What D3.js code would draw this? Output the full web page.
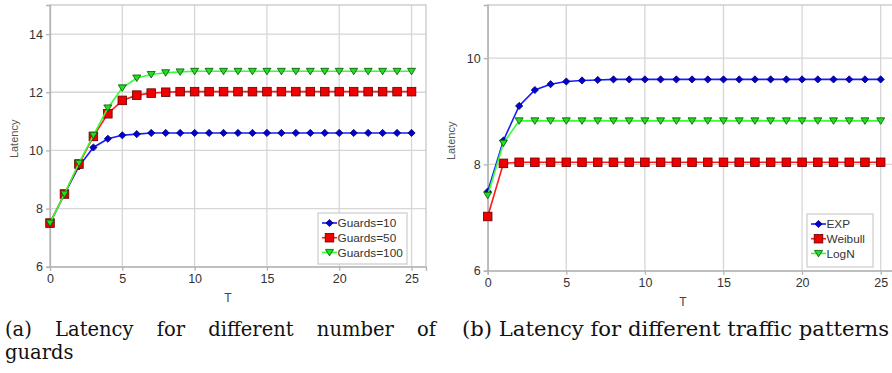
<!DOCTYPE html>
<html>
<head>
<meta charset="utf-8">
<script src="https://cdn.jsdelivr.net/npm/d3@7"></script>
<style>
  body { margin: 0; background: #fff; }
  svg { display: block; }
</style>
</head>
<body>
<div id="chart-area"></div>
<script>
// data
const T = [0,1,2,3,4,5,6,7,8,9,10,11,12,13,14,15,16,17,18,19,20,21,22,23,24,25]
const xTicks = [0, 5, 10, 15, 20, 25]

const guards10  = [7.5,8.5,9.45,10.1,10.4,10.52,10.56,10.6,10.6,10.6,10.6,10.6,10.6,10.6,10.6,10.6,10.6,10.6,10.6,10.6,10.6,10.6,10.6,10.6,10.6,10.6]
const guards50  = [7.5,8.5,9.53,10.48,11.26,11.72,11.9,11.97,12.0,12.02,12.02,12.02,12.02,12.02,12.02,12.02,12.02,12.02,12.02,12.02,12.02,12.02,12.02,12.02,12.02,12.02]
const guards100 = [7.5,8.5,9.56,10.52,11.46,12.15,12.49,12.61,12.67,12.7,12.72,12.72,12.72,12.72,12.72,12.72,12.72,12.72,12.72,12.72,12.72,12.72,12.72,12.72,12.72,12.72]
const leftNames = ["Guards=10", "Guards=50", "Guards=100"]
const leftYTicks = [6, 8, 10, 12, 14]

const expLat     = [7.49,8.45,9.1,9.4,9.51,9.56,9.58,9.59,9.6,9.6,9.6,9.6,9.6,9.6,9.6,9.6,9.6,9.6,9.6,9.6,9.6,9.6,9.6,9.6,9.6,9.6]
const weibullLat = [7.02,8.02,8.04,8.04,8.04,8.04,8.04,8.04,8.04,8.04,8.04,8.04,8.04,8.04,8.04,8.04,8.04,8.04,8.04,8.04,8.04,8.04,8.04,8.04,8.04,8.04]
const lognLat    = [7.42,8.4,8.82,8.82,8.82,8.82,8.82,8.82,8.82,8.82,8.82,8.82,8.82,8.82,8.82,8.82,8.82,8.82,8.82,8.82,8.82,8.82,8.82,8.82,8.82,8.82]
const rightNames = ["EXP", "Weibull", "LogN"]
const rightYTicks = [6, 8, 10]

const captionA1 = ["(a)", "Latency", "for", "different", "number", "of"]
const captionA2 = "guards"
const captionB = "(b) Latency for different traffic patterns"

// marker styles: diamond / square / down triangle
const STYLES = [
  { line: "#1a1aff", fill: "#0000d0", stroke: "#000066", shape: "diamond" },
  { line: "#ff1a1a", fill: "#ee0000", stroke: "#660000", shape: "square" },
  { line: "#33ff33", fill: "#22dd22", stroke: "#005500", shape: "tri" }
]
const sans = "Liberation Sans, Arial, sans-serif"

const svg = d3.select("#chart-area").append("svg")
  .attr("width", 892)
  .attr("height", 373)

function marker(g, shape, st, cx, cy) {
  if (shape === "diamond") {
    g.append("path")
      .attr("d", `M${cx},${cy-3.6}L${cx+3.6},${cy}L${cx},${cy+3.6}L${cx-3.6},${cy}Z`)
      .attr("fill", st.fill).attr("stroke", st.stroke).attr("stroke-width", 0.8)
  } else if (shape === "square") {
    g.append("rect")
      .attr("x", cx - 4.3).attr("y", cy - 4.3).attr("width", 8.6).attr("height", 8.6)
      .attr("fill", st.fill).attr("stroke", st.stroke).attr("stroke-width", 0.8)
  } else {
    g.append("path")
      .attr("d", `M${cx-4},${cy-3}L${cx+4},${cy-3}L${cx},${cy+3.5}Z`)
      .attr("fill", st.fill).attr("stroke", st.stroke).attr("stroke-width", 0.8)
  }
}

function drawChart(opts) {
  const { left, right, top, bottom, yDomain, yTicks, series, names, legend, yLabelX, tLabelX } = opts
  const g = svg.append("g")

  const x = d3.scaleLinear().domain([0, 26]).range([left, right])
  const y = d3.scaleLinear().domain(yDomain).range([bottom, top])

  // grid
  g.append("g").selectAll("line").data(xTicks).join("line")
    .attr("x1", d => x(d)).attr("x2", d => x(d))
    .attr("y1", top).attr("y2", bottom)
    .attr("stroke", "#d6d6d6").attr("stroke-width", 1.3)
  g.append("g").selectAll("line").data(yTicks).join("line")
    .attr("x1", left).attr("x2", right)
    .attr("y1", d => y(d)).attr("y2", d => y(d))
    .attr("stroke", "#d6d6d6").attr("stroke-width", 1.3)

  // frame
  g.append("rect")
    .attr("x", left).attr("y", top)
    .attr("width", right - left).attr("height", bottom - top)
    .attr("fill", "none").attr("stroke", "#c8c8c8").attr("stroke-width", 1.3)

  // axes
  const xAxis = g.append("g")
    .attr("transform", `translate(0,${bottom})`)
    .call(d3.axisBottom(x).tickValues(xTicks).tickFormat(d3.format("d")).tickSize(4).tickPadding(3))
  const yAxis = g.append("g")
    .attr("transform", `translate(${left},0)`)
    .call(d3.axisLeft(y).tickValues(yTicks).tickFormat(d3.format("d")).tickSize(4).tickPadding(3))
  ;[xAxis, yAxis].forEach(a => {
    a.select(".domain").attr("stroke", "#b3b3b3").attr("stroke-width", 1.3)
    a.selectAll(".tick line").attr("stroke", "#b3b3b3").attr("stroke-width", 1.3)
    a.selectAll(".tick text")
      .attr("fill", "#333").attr("font-size", "12.5px")
      .attr("font-family", sans)
  })

  // axis titles
  g.append("text")
    .attr("transform", `translate(${yLabelX},${(top + bottom) / 2 + 3}) rotate(-90)`)
    .attr("text-anchor", "middle")
    .attr("font-size", "11px").attr("fill", "#555")
    .attr("font-family", sans)
    .text("Latency")
  g.append("text")
    .attr("x", tLabelX).attr("y", bottom + 35)
    .attr("text-anchor", "middle")
    .attr("font-size", "12px").attr("fill", "#444")
    .attr("font-family", sans)
    .text("T")

  // lines and markers
  const line = d3.line().x((d, i) => x(T[i])).y(d => y(d))
  series.forEach((s, k) => {
    const st = STYLES[k]
    g.append("path").datum(s)
      .attr("d", line)
      .attr("fill", "none").attr("stroke", st.line).attr("stroke-width", 1.6)
    const mg = g.append("g")
    s.forEach((v, i) => marker(mg, st.shape, st, x(T[i]), y(v)))
  })

  // legend
  const lg = g.append("g").attr("transform", `translate(${legend.x},${legend.y})`)
  lg.append("rect")
    .attr("width", legend.w).attr("height", legend.h)
    .attr("fill", "#fff").attr("stroke", "#d0d0d0").attr("stroke-width", 1.3)
  names.forEach((n, k) => {
    const st = STYLES[k]
    const cy = 10 + k * 14.7
    lg.append("line")
      .attr("x1", 4).attr("x2", 19).attr("y1", cy).attr("y2", cy)
      .attr("stroke", st.line).attr("stroke-width", 1.6)
    marker(lg, st.shape, st, 11.5, cy)
    lg.append("text")
      .attr("x", 19.5).attr("y", cy + 4.3)
      .attr("font-size", "11.8px").attr("fill", "#333")
      .attr("font-family", sans)
      .text(n)
  })
}

drawChart({
  left: 50, right: 426, top: 5, bottom: 266.7,
  yDomain: [6, 15], yTicks: leftYTicks,
  series: [guards10, guards50, guards100], names: leftNames,
  legend: { x: 318, y: 213, w: 89, h: 51 },
  yLabelX: 18, tLabelX: 228
})

drawChart({
  left: 487.7, right: 896.4, top: 5, bottom: 270.7,
  yDomain: [6, 11], yTicks: rightYTicks,
  series: [expLat, weibullLat, lognLat], names: rightNames,
  legend: { x: 807, y: 214, w: 66, h: 53 },
  yLabelX: 455, tLabelX: 683
})

// captions
const capFont = "DejaVu Serif, Liberation Serif, serif"
const capSize = "19.5px"
const capA = svg.append("g")
const words = captionA1.map(w => capA.append("text")
  .attr("y", 336).attr("font-size", capSize).attr("font-family", capFont)
  .attr("fill", "#111").text(w))
const widths = words.map(t => t.node().getComputedTextLength())
const startX = 5, endX = 436
const gap = (endX - startX - d3.sum(widths)) / (words.length - 1)
let cur = startX
words.forEach((t, i) => { t.attr("x", cur); cur += widths[i] + gap })

svg.append("text")
  .attr("x", 5).attr("y", 359).attr("font-size", capSize).attr("font-family", capFont)
  .attr("fill", "#111").text(captionA2)

svg.append("text")
  .attr("x", 462).attr("y", 336).attr("font-size", capSize).attr("font-family", capFont)
  .attr("fill", "#111")
  .attr("textLength", 427).attr("lengthAdjust", "spacingAndGlyphs")
  .text(captionB)
</script>
</body>
</html>
